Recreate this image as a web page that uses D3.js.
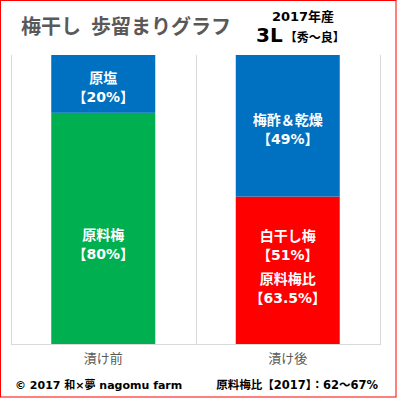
<html lang="ja">
<head>
<meta charset="utf-8">
<script src="https://d3js.org/d3.v7.min.js"></script>
<style>
  body { margin: 0; background: #fff; }
  text { font-family: "DejaVu Sans", "Noto Sans CJK JP", sans-serif; }
</style>
</head>
<body>
<script>
// data
var categories = ["漬け前", "漬け後"]
var topValues = [20, 49]
var bottomValues = [80, 51]
var topNames = ["原塩", "梅酢＆乾燥"]
var bottomNames = ["原料梅", "白干し梅"]
var topColors = ["#0070C0", "#0070C0"]
var bottomColors = ["#00B050", "#FF0000"]
var extraName = "原料梅比"
var extraValue = "63.5%"

var width = 397
var height = 399

var svg = d3.select("body").append("svg")
    .attr("width", width)
    .attr("height", height)

// red frame
svg.append("rect")
    .attr("x", 0.5).attr("y", 0.5)
    .attr("width", width - 1.5).attr("height", height - 2.5)
    .attr("fill", "none")
    .attr("stroke", "#FF0000")
    .attr("stroke-width", 1)

var plotLeft = 11, plotRight = 380, plotTop = 55, plotBottom = 344

var x = d3.scaleBand()
    .domain(categories)
    .range([plotLeft, plotRight])
    .paddingInner(0)
    .paddingOuter(0)

var y = d3.scaleLinear()
    .domain([0, 100])
    .range([plotBottom, plotTop])

var barW = 104

// category separators
var seps = [plotLeft].concat(categories.map(function(c) { return x(c) + x.bandwidth() }))
svg.selectAll(".sep")
    .data(seps)
    .enter().append("line")
    .attr("x1", function(d) { return Math.round(d) + 0.5 })
    .attr("x2", function(d) { return Math.round(d) + 0.5 })
    .attr("y1", plotTop)
    .attr("y2", plotBottom)
    .attr("stroke", "#D9D9D9")
svg.append("line")
    .attr("x1", plotLeft).attr("x2", plotRight + 1)
    .attr("y1", plotBottom + 0.5).attr("y2", plotBottom + 0.5)
    .attr("stroke", "#D9D9D9")

function barX(i) { return x(categories[i]) + (x.bandwidth() - barW) / 2 }

// bottom stack
svg.selectAll(".bottom")
    .data(bottomValues)
    .enter().append("rect")
    .attr("x", function(d, i) { return barX(i) })
    .attr("width", barW)
    .attr("y", function(d) { return y(d) })
    .attr("height", function(d) { return y(0) - y(d) })
    .attr("fill", function(d, i) { return bottomColors[i] })

// top stack
svg.selectAll(".top")
    .data(topValues)
    .enter().append("rect")
    .attr("x", function(d, i) { return barX(i) })
    .attr("width", barW)
    .attr("y", function(d, i) { return y(bottomValues[i] + d) })
    .attr("height", function(d, i) { return y(bottomValues[i]) - y(bottomValues[i] + d) })
    .attr("fill", function(d, i) { return topColors[i] })

function cx(i) { return x(categories[i]) + x.bandwidth() / 2 }

function label(xc, yc, lines) {
  var t = svg.append("text")
      .attr("text-anchor", "middle")
      .attr("fill", "#fff")
      .attr("font-size", "14px")
      .attr("font-weight", "bold")
  lines.forEach(function(s, k) {
    t.append("tspan").attr("x", xc).attr("y", yc + k * 19).text(s)
  })
}

// top labels
label(cx(0), y(bottomValues[0] + topValues[0] / 2) - 1, [topNames[0], "【" + topValues[0] + "%】"])
label(cx(1), y(bottomValues[1] + topValues[1] / 2) - 1, [topNames[1], "【" + topValues[1] + "%】"])
// bottom labels
label(cx(0), 240, [bottomNames[0], "【" + bottomValues[0] + "%】"])
label(cx(1), 241, [bottomNames[1], "【" + bottomValues[1] + "%】"])
label(cx(1), 284, [extraName, "【" + extraValue + "】"])

// category axis labels
svg.selectAll(".cat")
    .data(categories)
    .enter().append("text")
    .attr("x", function(d, i) { return cx(i) })
    .attr("y", 363)
    .attr("text-anchor", "middle")
    .attr("fill", "#595959")
    .attr("font-size", "13px")
    .text(function(d) { return d })

// titles
svg.append("text")
    .attr("x", 21).attr("y", 34)
    .attr("fill", "#595959")
    .attr("font-size", "20px")
    .attr("font-weight", "bold")
    .attr("word-spacing", "3px")
    .text("梅干し 歩留まりグラフ")

svg.append("text")
    .attr("x", 303).attr("y", 21)
    .attr("text-anchor", "middle")
    .attr("fill", "#000")
    .attr("font-size", "13px")
    .attr("font-weight", "bold")
    .text("2017年産")

var sub = svg.append("text")
    .attr("x", 256).attr("y", 42)
    .attr("fill", "#000")
    .attr("font-weight", "bold")
sub.append("tspan").attr("font-size", "20px").text("3L")
sub.append("tspan").attr("font-size", "12px").attr("dx", 2).text("【秀～良】")

// footer
svg.append("text")
    .attr("x", 15).attr("y", 389)
    .attr("fill", "#000")
    .attr("font-size", "11px")
    .attr("font-weight", "bold")
    .text("© 2017  和×夢 nagomu  farm")

svg.append("text")
    .attr("x", 378).attr("y", 389)
    .attr("text-anchor", "end")
    .attr("fill", "#000")
    .attr("font-size", "11.5px")
    .attr("font-weight", "bold")
    .text("原料梅比【2017】：62～67%")
</script>
</body>
</html>
